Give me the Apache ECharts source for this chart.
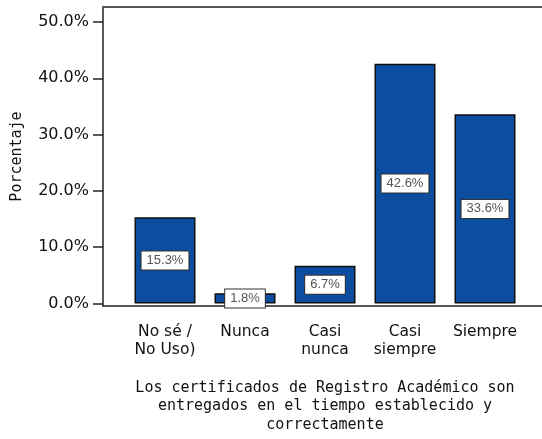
<!DOCTYPE html>
<html>
<head>
<meta charset="utf-8">
<script src="https://cdn.jsdelivr.net/npm/echarts@6/dist/echarts.min.js"></script>
<style>
  html, body { margin: 0; padding: 0; background: #fff; }
  #chart { width: 542px; height: 439px; }
</style>
</head>
<body>
<div id="chart"></div>
<script>
// categorias y porcentajes
const categories = ['No sé /\nNo Uso)', 'Nunca', 'Casi\nnunca', 'Casi\nsiempre', 'Siempre'];
const percentages = [15.3, 1.8, 6.7, 42.6, 33.6];
const yTickValues = [0, 10, 20, 30, 40, 50];
const xTitle = 'Los certificados de Registro Académico son\nentregados en el tiempo establecido y\ncorrectamente';
const yTitle = 'Porcentaje';

const font = 'DejaVu Sans';
const monoFont = 'DejaVu Sans Mono';
const lineCol = '#222';

const myChart = echarts.init(document.getElementById('chart'));
myChart.setOption({
  backgroundColor: '#fff',
  animation: false,
  grid: [
    { left: 125, right: 17, top: 22, bottom: 133 },
    // marco: eje izquierdo, base y linea superior
    { left: 103, right: -20, top: 7, bottom: 133 }
  ],
  xAxis: [
    {
      gridIndex: 0,
      type: 'category',
      data: categories,
      axisLine: { show: false },
      axisTick: { alignWithLabel: true, length: 7, lineStyle: { color: lineCol, width: 1.5 } },
      axisLabel: { interval: 0, margin: 19, fontFamily: font, fontSize: 15.5, color: '#111', lineHeight: 18 },
      name: xTitle,
      nameLocation: 'middle',
      nameGap: 75,
      nameTextStyle: { fontFamily: monoFont, fontSize: 15, color: '#111', lineHeight: 18.5 }
    },
    {
      gridIndex: 1, type: 'value', min: 0, max: 1,
      axisLine: { show: true, lineStyle: { color: lineCol, width: 1.5 } },
      axisTick: { show: false }, axisLabel: { show: false }, splitLine: { show: false }
    },
    {
      gridIndex: 1, type: 'value', min: 0, max: 1, position: 'top',
      axisLine: { show: true, lineStyle: { color: '#555', width: 2 } },
      axisTick: { show: false }, axisLabel: { show: false }, splitLine: { show: false }
    }
  ],
  yAxis: [
    {
      gridIndex: 0,
      type: 'value',
      min: yTickValues[0],
      max: yTickValues[yTickValues.length - 1],
      interval: 10,
      offset: 22,
      axisLine: { show: false },
      axisTick: { show: true, length: 10, lineStyle: { color: lineCol, width: 1.5 } },
      axisLabel: {
        margin: 14,
        fontFamily: font,
        fontSize: 16,
        color: '#111',
        formatter: v => v.toFixed(1) + '%'
      },
      splitLine: { show: false }
    },
    {
      gridIndex: 1, type: 'value', min: 0, max: 1,
      axisLine: { show: true, lineStyle: { color: lineCol, width: 1.5 } },
      axisTick: { show: false }, axisLabel: { show: false }, splitLine: { show: false },
      name: yTitle,
      nameLocation: 'middle',
      nameGap: 78,
      nameTextStyle: { fontFamily: monoFont, fontSize: 15, color: '#111' }
    }
  ],
  series: [
    {
      type: 'bar',
      xAxisIndex: 0,
      yAxisIndex: 0,
      data: percentages,
      barWidth: 61,
      itemStyle: { color: '#0b4d9f', borderColor: '#111', borderWidth: 1.5 },
      label: {
        show: true,
        position: 'inside',
        formatter: p => p.value.toFixed(1) + '%',
        backgroundColor: '#fff',
        borderColor: '#333',
        borderWidth: 1,
        padding: [3, 5, 2, 5],
        color: '#555',
        fontFamily: 'Liberation Sans',
        fontSize: 13
      }
    }
  ]
});
</script>
</body>
</html>
